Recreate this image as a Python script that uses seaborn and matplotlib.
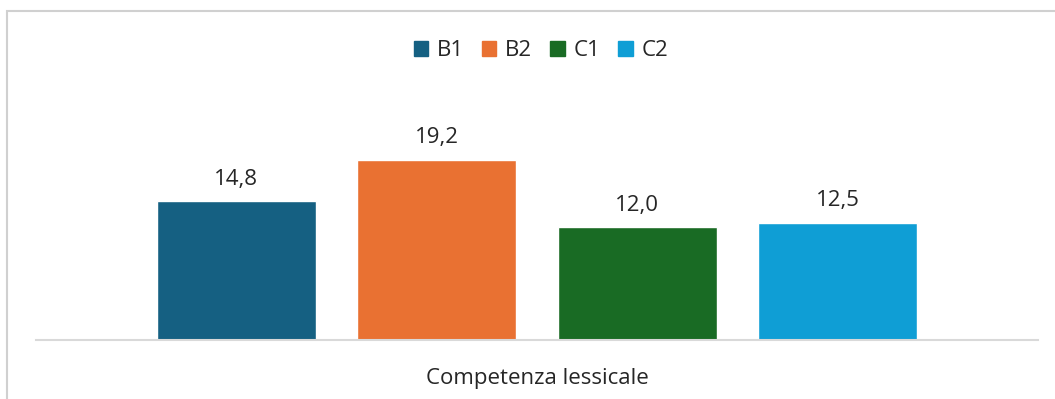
import matplotlib
matplotlib.use("Agg")
import matplotlib.pyplot as plt
from matplotlib.patches import Rectangle
import seaborn as sns
import pandas as pd

categories = ["Competenza lessicale"]
levels = ["B1", "B2", "C1", "C2"]
values = [14.8, 19.2, 12.0, 12.5]
colors = ["#156082", "#E97132", "#196B24", "#0F9ED5"]

df = pd.DataFrame({"cat": categories * len(levels), "level": levels, "value": values})

sns.set_theme(style="white")
plt.rcParams["font.family"] = ["Open Sans", "DejaVu Sans"]

W, H = 1055, 399
fig = plt.figure(figsize=(W / 100, H / 100), dpi=100)
ax = fig.add_axes([36 / W, 59 / H, (1038 - 36) / W, (340 - 80) / H])

sns.barplot(data=df, x="cat", y="value", hue="level", palette=colors,
            width=0.8, gap=0.205, ax=ax, legend=False, saturation=1)

for c in ax.containers:
    ax.bar_label(c, labels=[f"{v:.1f}".replace(".", ",") for v in c.datavalues],
                 padding=8, fontsize=16, color="#262626")

ax.set_xlim(-0.5, 0.5)
ax.set_ylim(0, 260 / 9.4)
ax.set_xlabel("")
ax.set_ylabel("")
ax.set_yticks([])
ax.tick_params(axis="x", labelsize=16, colors="#262626", length=0, pad=20)
for s in ["top", "left", "right"]:
    ax.spines[s].set_visible(False)
ax.spines["bottom"].set_color("#d9d9d9")
ax.spines["bottom"].set_linewidth(1.5)

handles = [Rectangle((0, 0), 1, 1, color=col) for col in colors]
fig.legend(handles, levels, loc="center", bbox_to_anchor=(541 / W, 1 - 51 / H),
           ncol=4, frameon=False, fontsize=16, handlelength=0.65, handleheight=0.65,
           handletextpad=0.4, columnspacing=0.8, labelcolor="#262626")

# outer frame
fig.patches.append(Rectangle((7 / W, -0.05), 1.2, 1 - 11 / H + 0.05,
                             transform=fig.transFigure, fill=False,
                             edgecolor="#d0d0d0", linewidth=1.5))

fig.savefig("out.png", dpi=100, facecolor="white")
